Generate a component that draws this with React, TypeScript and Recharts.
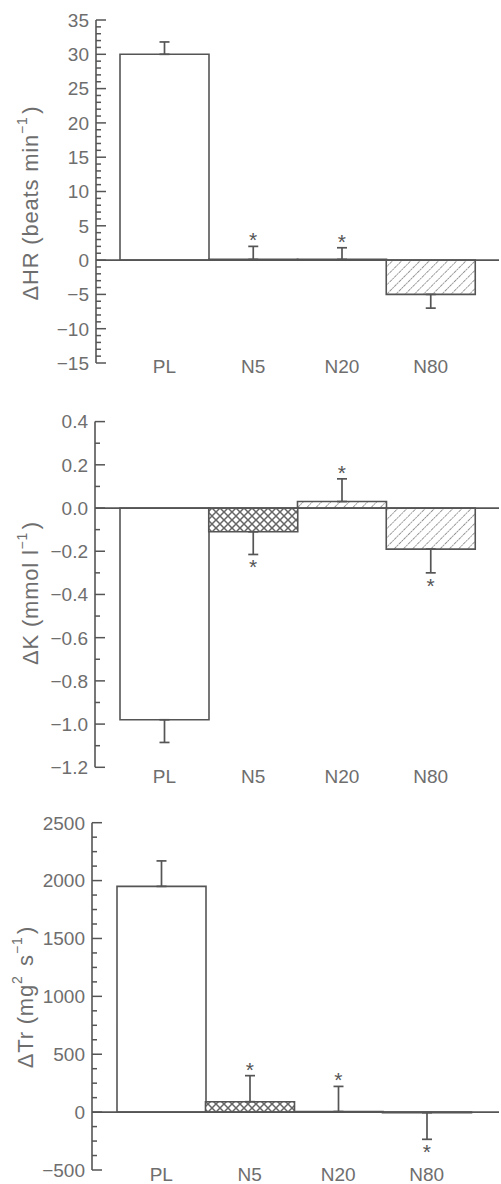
import React from 'react';
import { ComposedChart, Bar, Cell, Line, XAxis, YAxis, ReferenceLine, ErrorBar } from 'recharts';

const categories = ['PL', 'N5', 'N20', 'N80'];

// ΔHR (beats min-1)
const hrMeans = [30, 0.1, 0.1, -5];
const hrErrors = [1.8, 1.9, 1.7, 2.0];
const hrSignificant = [false, true, true, false];

// ΔK (mmol l-1)
const kMeans = [-0.98, -0.11, 0.03, -0.19];
const kErrors = [0.105, 0.105, 0.105, 0.11];
const kSignificant = [false, true, true, true];

// ΔTr (mg2 s-1)
const trMeans = [1950, 90, 5, -5];
const trErrors = [220, 225, 217, 230];
const trSignificant = [false, true, true, true];

// axis ticks (labelled majors) and minor step
const hrMajorTicks = [-15, -10, -5, 0, 5, 10, 15, 20, 25, 30, 35];
const hrMinorStep = 1;
const kMajorTicks = [-1.2, -1.0, -0.8, -0.6, -0.4, -0.2, 0.0, 0.2, 0.4];
const kMinorStep = 0.1;
const trMajorTicks = [-500, 0, 500, 1000, 1500, 2000, 2500];
const trMinorStep = 125;

const LINE = '#555';
const TEXT = '#6e6e6e';
const FONT = '"Liberation Sans", Arial, sans-serif';

const buildRows = (means: number[], errors: number[], sig: boolean[]) =>
  categories.map((name, i) => {
    const up = means[i] >= 0;
    return {
      name,
      value: means[i],
      err: up ? [0, errors[i]] : [errors[i], 0],
      tip: up ? means[i] + errors[i] : means[i] - errors[i],
      up,
      star: sig[i],
    };
  });

const allTicks = (major: number[], step: number) => {
  const min = major[0];
  const max = major[major.length - 1];
  const n = Math.round((max - min) / step);
  return Array.from({ length: n + 1 }, (_, i) => Math.round((min + i * step) * 1000) / 1000);
};

const fmt = (v: number, decimals: number) => {
  const s = Math.abs(v).toFixed(decimals);
  return v < 0 ? `\u2212${s}` : s;
};

const YTick = (props: any) => {
  const { x, y, payload, major, decimals } = props;
  const isMajor = major.some((m: number) => Math.abs(m - payload.value) < 1e-6);
  return (
    <g>
      <line x1={x} x2={x + (isMajor ? 10 : 5)} y1={y} y2={y} stroke={LINE} strokeWidth={1.5} />
      {isMajor && (
        <text x={x - 7} y={y} dy="0.36em" textAnchor="end" fill={TEXT} fontSize={19} fontFamily={FONT}>
          {fmt(payload.value, decimals)}
        </text>
      )}
    </g>
  );
};

const XTick = (props: any) => {
  const { x, y, payload, dy } = props;
  return (
    <text x={x} y={y + dy} textAnchor="middle" fill={TEXT} fontSize={19} fontFamily={FONT}>
      {payload.value}
    </text>
  );
};

// significance asterisk just beyond the end of the error bar
const Star = (props: any) => {
  const { cx, cy, payload, index } = props;
  if (!payload || !payload.star || cx == null || cy == null) return <g key={`s-${index}`} />;
  const centre = payload.up ? cy - 10 : cy + 9;
  return (
    <text key={`s-${index}`} x={cx} y={centre + 11} textAnchor="middle" fill={LINE} fontSize={21} fontFamily={FONT}>
      *
    </text>
  );
};

type Panel = {
  id: string;
  top: number;
  height: number;
  marginTop: number;
  axisWidth: number;
  xAxisHeight: number;
  padLeft: number;
  padRight: number;
  labelDy: number;
  major: number[];
  step: number;
  decimals: number;
  rows: ReturnType<typeof buildRows>;
  fills: string[];
  labelX: number;
  labelY: number;
  label: React.ReactNode;
};

const patternDefs = (id: string) => (
  <defs>
    <pattern id={`${id}-diag`} patternUnits="userSpaceOnUse" width="6.5" height="6.5" patternTransform="rotate(45)">
      <rect width="6.5" height="6.5" fill="#fff" />
      <line x1="0" y1="0" x2="0" y2="6.5" stroke="#6e6e6e" strokeWidth="1.4" strokeDasharray="1.8 0.8" />
    </pattern>
    <pattern id={`${id}-cross`} patternUnits="userSpaceOnUse" width="8" height="8">
      <rect width="8" height="8" fill="#fff" />
      <path d="M0,0 L8,8 M8,0 L0,8" stroke="#666" strokeWidth="1.5" />
    </pattern>
  </defs>
);

const ChartPanel = ({ p }: { p: Panel }) => {
  const ticks = allTicks(p.major, p.step);
  const domain = [p.major[0], p.major[p.major.length - 1]];
  return (
    <div style={{ position: 'absolute', left: 0, top: p.top, width: 501, height: p.height }}>
      <ComposedChart
        width={501}
        height={p.height}
        data={p.rows}
        margin={{ top: p.marginTop, right: 2, bottom: 0, left: 0 }}
        barCategoryGap={0}
        barGap={0}
      >
        {patternDefs(p.id)}
        <XAxis
          dataKey="name"
          type="category"
          height={p.xAxisHeight}
          axisLine={false}
          tickLine={false}
          tickSize={0}
          tickMargin={0}
          interval={0}
          padding={{ left: p.padLeft, right: p.padRight }}
          tick={(t: any) => <XTick {...t} dy={p.labelDy} />}
        />
        <YAxis
          type="number"
          width={p.axisWidth}
          domain={domain}
          ticks={ticks}
          interval={0}
          allowDataOverflow
          tickLine={false}
          tickSize={0}
          tickMargin={0}
          axisLine={{ stroke: LINE, strokeWidth: 1.6 }}
          tick={(t: any) => <YTick {...t} major={p.major} decimals={p.decimals} />}
        />
        <Bar dataKey="value" stroke={LINE} strokeWidth={1.6} isAnimationActive={false}>
          {p.rows.map((r, i) => (
            <Cell key={r.name} fill={p.fills[i]} />
          ))}
          <ErrorBar dataKey="err" width={5} stroke={LINE} strokeWidth={1.7} direction="y" isAnimationActive={false} />
        </Bar>
        <ReferenceLine y={0} stroke={LINE} strokeWidth={1.7} />
        <Line
          dataKey="tip"
          stroke="none"
          isAnimationActive={false}
          activeDot={false}
          legendType="none"
          dot={(d: any) => <Star {...d} />}
        />
      </ComposedChart>
      <svg
        width={501}
        height={p.height}
        style={{ position: 'absolute', left: 0, top: 0, pointerEvents: 'none' }}
      >
        <text
          x={p.labelX}
          y={p.labelY}
          transform={`rotate(-90 ${p.labelX} ${p.labelY})`}
          textAnchor="middle"
          dominantBaseline="central"
          fill={TEXT}
          fontSize={22}
          letterSpacing={0.8}
          fontFamily={FONT}
        >
          {p.label}
        </text>
      </svg>
    </div>
  );
};

const sup = (s: string) => (
  <>
    <tspan dy={-8} fontSize={14}>{s}</tspan>
    <tspan dy={8}>{'\u200a'}</tspan>
  </>
);

const panels: Panel[] = [
  {
    id: 'hr',
    top: 0,
    height: 390,
    marginTop: 20,
    axisWidth: 96,
    xAxisHeight: 27,
    padLeft: 24,
    padRight: 24,
    labelDy: 10,
    major: hrMajorTicks,
    step: hrMinorStep,
    decimals: 0,
    rows: buildRows(hrMeans, hrErrors, hrSignificant),
    fills: ['#fff', 'url(#hr-cross)', '#fff', 'url(#hr-diag)'],
    labelX: 30,
    labelY: 203,
    label: (
      <>
        {'\u0394HR (beats min'}
        {sup('\u22121')}
        {')'}
      </>
    ),
  },
  {
    id: 'k',
    top: 400,
    height: 400,
    marginTop: 21.6,
    axisWidth: 95,
    xAxisHeight: 32.7,
    padLeft: 25,
    padRight: 24,
    labelDy: 16,
    major: kMajorTicks,
    step: kMinorStep,
    decimals: 1,
    rows: buildRows(kMeans, kErrors, kSignificant),
    fills: ['#fff', 'url(#k-cross)', 'url(#k-diag)', 'url(#k-diag)'],
    labelX: 30,
    labelY: 193,
    label: (
      <>
        {'\u0394K (mmol l'}
        {sup('\u22121')}
        {')'}
      </>
    ),
  },
  {
    id: 'tr',
    top: 800,
    height: 384,
    marginTop: 22.7,
    axisWidth: 92,
    xAxisHeight: 14,
    padLeft: 25,
    padRight: 28,
    labelDy: 11,
    major: trMajorTicks,
    step: trMinorStep,
    decimals: 0,
    rows: buildRows(trMeans, trErrors, trSignificant),
    fills: ['#fff', 'url(#tr-cross)', '#fff', 'url(#tr-diag)'],
    labelX: 25,
    labelY: 197,
    label: (
      <>
        {'\u0394Tr (mg'}
        {sup('2')}
        {' s'}
        {sup('\u22121')}
        {')'}
      </>
    ),
  },
];

export default function App() {
  return (
    <div style={{ position: 'absolute', left: 0, top: 0, width: 501, height: 1184, background: '#fff', overflow: 'hidden' }}>
      {panels.map((p) => (
        <ChartPanel key={p.id} p={p} />
      ))}
    </div>
  );
}
